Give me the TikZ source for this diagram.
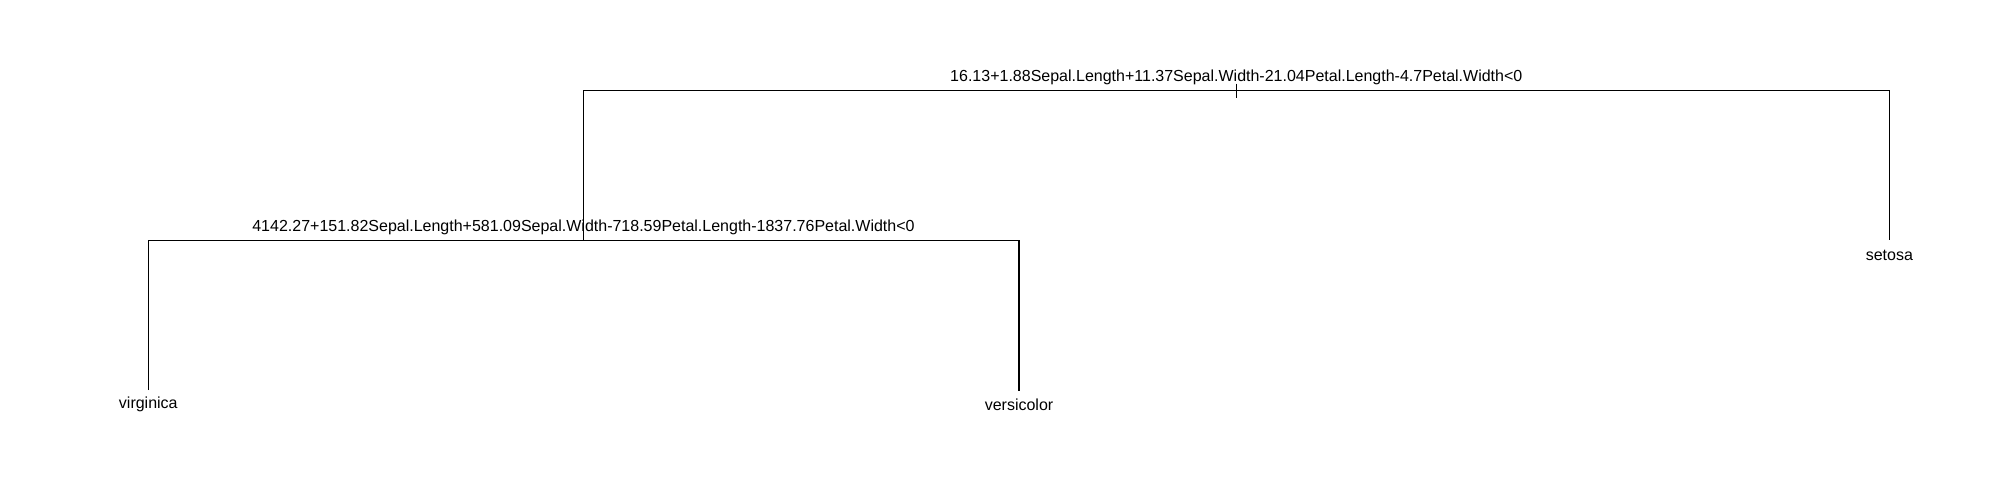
\documentclass[tikz,border=0pt]{standalone}
\usepackage{fontspec}
\setmainfont{Liberation Sans}
\usetikzlibrary{positioning}

\begin{document}
\begin{tikzpicture}[
    x=0.5pt, y=-0.5pt,
    every node/.style={font=\fontsize{8}{9.6}\selectfont, inner sep=0pt, anchor=base},
    branch/.style={line width=0.6pt},
]
\useasboundingbox (0,0) rectangle (2000,500);
% split points and leaf ends
\coordinate (root) at (1236.3,90.7);
\coordinate (split2) at (583.5,240.3);
\coordinate (setosaend) at (1889.3,240.3);
\coordinate (virginicaend) at (148.3,390);
\coordinate (versicolorend) at (1019,391);
% labels
\node (rootlabel) at (1236.3,81) {16.13+1.88Sepal.Length+11.37Sepal.Width-21.04Petal.Length-4.7Petal.Width<0};
\node (split2label) at (583.5,231) {4142.27+151.82Sepal.Length+581.09Sepal.Width-718.59Petal.Length-1837.76Petal.Width<0};
\node (setosa) at (1889.3,260) {setosa};
\node (virginica) at (148.3,408) {virginica};
\node (versicolor) at (1019,410) {versicolor};
% branches
\draw[branch] ([yshift=3.5pt]root) -- ([yshift=-3.5pt]root);
\draw[branch] (split2) |- (root) -| (setosaend);
\draw[branch] (virginicaend) |- (split2) -| (versicolorend);
\end{tikzpicture}
\end{document}
